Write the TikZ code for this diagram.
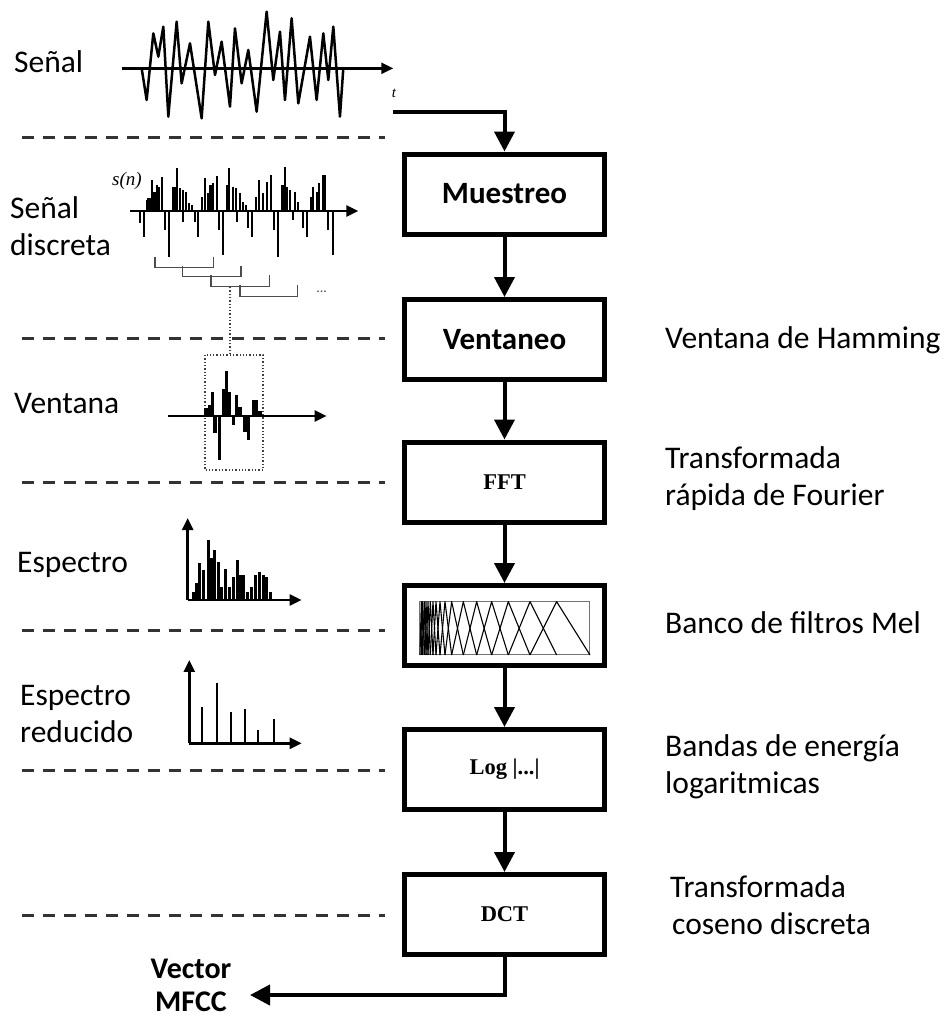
\documentclass[tikz,border=0pt]{standalone}
\usepackage{fontspec}
\setmainfont{Carlito}
\newfontfamily\tnr{Liberation Serif}
\usetikzlibrary{arrows.meta}
\begin{document}
\begin{tikzpicture}[x=1pt,y=-1pt,
  lbl/.style={anchor=base west, inner sep=0pt, align=left, font=\fontsize{31.5}{36.5}\selectfont},
  stage/.style={draw, line width=5pt, minimum width=200pt, minimum height=80pt, inner sep=0pt},
  bigtxt/.style={font=\bfseries\fontsize{31}{36}\selectfont},
  smalltxt/.style={font=\tnr\bfseries\fontsize{22.5}{26}\selectfont},
  flow/.style={line width=4pt, -{Triangle[length=20pt,width=20pt]}},
  sep/.style={line width=3pt, dash pattern=on 12pt off 9pt, black!80},
  sig/.style={line width=2.5pt, line join=round},
  ax/.style={line width=2.5pt, -{Triangle[length=12pt,width=11pt]}},
  stem/.style={line width=2pt},
  fat/.style={line width=3.2pt},
  brk/.style={line width=1.5pt, black!70},
  ]
\useasboundingbox (0,0) rectangle (948,1021);

% ---------- separators ----------
\foreach \yy in {137,338,482,630,770,915}
  \draw[sep] (22,\yy) -- (385,\yy);

% ---------- processing boxes ----------
\node[stage, bigtxt]   (mues) at (504.5,194)   {Muestreo};
\node[stage, bigtxt]   (vent) at (504.5,339.5) {Ventaneo};
\node[stage, smalltxt] (fft)  at (504.5,482)   {FFT};
\node[stage]           (mel)  at (504.5,625.5) {};
\node[stage, smalltxt] (log)  at (504.5,769.5) {Log |...|};
\node[stage, smalltxt] (dct)  at (504.5,914.5) {DCT};

% ---------- connectors ----------
\coordinate (tin) at (393,112);
\coordinate (out) at (250,995);
\draw[flow] (tin) -| (mues.north);
\draw[flow] (mues.south) -- (vent.north);
\draw[flow] (vent.south) -- (fft.north);
\draw[flow] (fft.south) -- (mel.north);
\draw[flow] (mel.south) -- (log.north);
\draw[flow] (log.south) -- (dct.north);
\draw[flow] (dct.south) |- (out);

% ---------- left labels (anchor = baseline of last line) ----------
\node[lbl] (l1) at (14,72)  {Señal};
\node[lbl] (l2) at (10,255) {Señal\\discreta};
\node[lbl] (l3) at (14,413) {Ventana};
\node[lbl] (l4) at (17,572) {Espectro};
\node[lbl] (l5) at (20,742) {Espectro\\reducido};
\node[lbl, anchor=base, align=center, font=\bfseries\fontsize{30}{33}\selectfont] (vec) at (191,1011) {Vector\\MFCC};

% ---------- right labels ----------
\node[lbl] (r1) at (665,348) {Ventana de Hamming};
\node[lbl] (r2) at (665,505) {Transformada\\rápida de Fourier};
\node[lbl] (r3) at (665,633) {Banco de filtros Mel};
\node[lbl] (r4) at (665,793) {Bandas de energía\\logaritmicas};
\node[lbl] (r5) at (670,934) {Transformada\\\hspace*{2pt}coseno discreta};

% ---------- continuous signal ----------
\begin{scope}[shift={(0,0)}, x=0.3333pt, y=-0.3333pt]
  \draw[ax] (365,205) -- (1180,205);
  \draw[sig] (425,205)--(440,300)--(460,100)--(475,170)--(490,80)--(505,350)--(530,65)--(545,250)--(570,130)--(605,355)--(625,65)--(645,225)--(665,125)--(690,320)--(705,85)--(725,250)--(745,150)--(770,335)--(800,35)--(820,240)--(840,95)--(855,300)--(875,55)--(895,310)--(930,110)--(950,300)--(970,100)--(985,240)--(1000,80)--(1020,350)--(1030,205);
\end{scope}
\node[font=\tnr\itshape\fontsize{15}{15}\selectfont, inner sep=0pt] (tlab) at (394,93) {t};

% ---------- discrete signal ----------
\node[font=\tnr\itshape\fontsize{19}{19}\selectfont, inner sep=0pt, anchor=base] (sn) at (127,185) {s(n)};
\begin{scope}[shift={(0,150)}, x=0.3333pt, y=-0.3333pt]
  \draw[ax] (390,183) -- (1075,183);
  \foreach \xx/\yy in {440/150,455/90,470/105,478/110,487/80,520/110,530/55,540/115,548/120,558/125,567/160,575/165,605/140,615/85,625/130,640/100,652/78,680/105,688/55,700/110,707/115,720/130,730/155,738/165,768/140,777/90,790/130,800/95,812/75,845/105,855/50,862/110,870/120,885/125,893/155,932/140,940/110,950/125,958/100,968/75,975/75,
                       420/220,432/260,496/240,508/320,550/215,585/215,595/260,658/240,668/315,712/215,745/235,755/260,822/240,835/320,878/210,910/235,920/260,985/240,998/315}
    \draw[stem] (\xx,183) -- (\xx,\yy);
  \foreach \xx/\yy in {447/145,463/125,525/110,633/105,684/105,850/105,955/125}
    \draw[fat] (\xx,183) -- (\xx,\yy);
  \draw[brk] (465,320) -- (465,352) -- (640,352) -- (640,320);
  \draw[brk] (548,348) -- (548,380) -- (723,380) -- (723,348);
  \draw[brk] (633,376) -- (633,410) -- (808,410) -- (808,376);
  \draw[brk] (720,405) -- (720,440) -- (893,440) -- (893,405);
  \node[font=\fontsize{14}{14}\selectfont, text=black!70, inner sep=0pt] (dots) at (965,425) {...};
\end{scope}
\draw[dotted, line width=1.3pt, black!75] (230,287) -- (230,355);

% ---------- windowed frame ----------
\draw[dotted, line width=1.3pt, black!75] (205,355) rectangle (263,470);
\begin{scope}[shift={(130,330)}, x=0.3333pt, y=-0.3333pt]
  \draw[ax] (115,258) -- (590,258);
  \foreach \xx/\yy in {228/235,240/225,247/185,255/310,268/390,280/178,290/122,298/185,310/285,320/195,330/232,345/305,355/330,370/210,378/210,390/242}
    \draw[fat] (\xx,258) -- (\xx,\yy);
\end{scope}

% ---------- spectrum ----------
\begin{scope}[shift={(150,530)}, x=0.3333pt, y=-0.3333pt]
  \draw[ax] (113,210) -- (113,-36);
  \draw[ax] (113,210) -- (455,210);
  \foreach \xx/\yy in {130/185,140/160,150/100,160/120,175/30,185/85,195/60,205/95,215/170,228/118,238/170,250/140,262/90,272/135,282/135,292/185,305/170,318/135,328/125,340/135,350/140,362/185}
    \draw[line width=3pt] (\xx,210) -- (\xx,\yy);
  % reduced spectrum
  \draw[ax] (118,640) -- (118,390);
  \draw[ax] (118,640) -- (455,640);
  \foreach \xx/\yy in {155/530,200/460,243/545,285/537,325/600,372/568}
    \draw[line width=2pt] (\xx,640) -- (\xx,\yy);
\end{scope}

% ---------- mel filter bank ----------
\begin{scope}[shift={(380,420)}, x=0.3333pt, y=-0.3333pt]
  \draw[black!55, line width=1pt] (120,545) rectangle (630,705);
  \foreach \a/\b/\c in {120/124/128,124/128/133,128/133/138,133/138/144,138/144/151,144/151/159,151/159/168,159/168/180,168/180/195,180/195/215,195/215/250,215/250/290,250/290/335,290/335/385,335/385/450,385/450/530,450/530/630}
    \draw[line width=1.1pt, line join=round] (\a,705) -- (\b,545) -- (\c,705);
\end{scope}
\end{tikzpicture}
\end{document}
